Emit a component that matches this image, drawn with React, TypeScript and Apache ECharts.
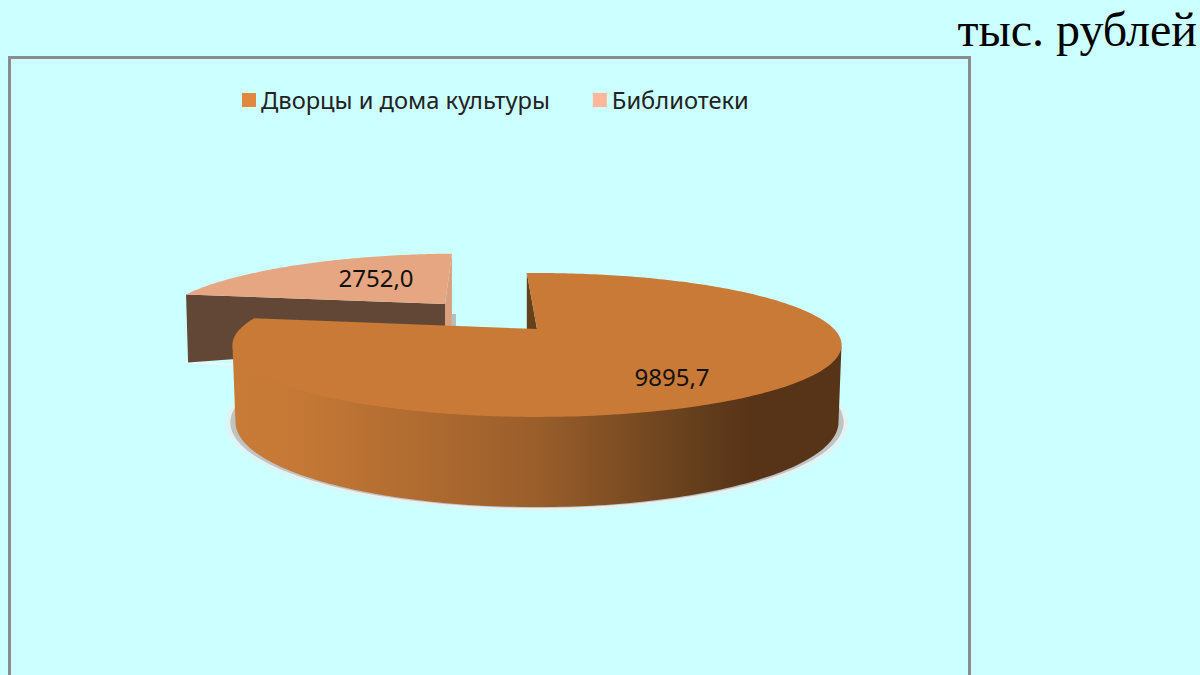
import React, { useEffect, useRef } from "react";
import * as echarts from "echarts";

const categories = ["Дворцы и дома культуры", "Библиотеки"];
const values = [9895.7, 2752.0];
const unitLabel = "тыс. рублей";

const START_DEG = -2.4;
const BG = "#CCFFFF";
const LEGEND_COLORS = ["#E0883D", "#FFB797"];
const TOP_COLORS = ["#C97A37", "#E6A681"];
const FONT = '"Noto Sans", sans-serif';

type P = [number, number];
type View = { xc: number; yc: number; b: number; a: number; k: number; s: number };

const MAIN_TOP: View = { xc: 537, yc: 329, b: 297, a: 68.4, k: 0.222, s: 0 };
const MAIN_BOTTOM: View = { xc: 537, yc: 403, b: 294, a: 81, k: 0.222, s: 0 };
const LIB_TOP: View = { xc: 445, yc: 304, b: 275, a: 61.6, k: 0.222, s: 20 };

function project(v: View, deg: number, f = 1): P {
  const t = (deg * Math.PI) / 180;
  const u = Math.sin(t) * f;
  const w = Math.cos(t) * f;
  const d = 1 + v.k * w;
  return [v.xc + (v.b * u + v.s * w) / d, v.yc - (v.a * w) / d];
}

function arc(v: View, from: number, to: number): P[] {
  const pts: P[] = [];
  const n = Math.max(2, Math.ceil(Math.abs(to - from)));
  for (let i = 0; i <= n; i++) pts.push(project(v, from + ((to - from) * i) / n));
  return pts;
}

function poly(points: P[], fill: any) {
  return { type: "polygon", shape: { points }, style: { fill, stroke: "none" } };
}

function label(value: number, x: number, y: number, size: number) {
  return {
    type: "text",
    x,
    y,
    style: {
      text: value.toFixed(1).replace(".", ","),
      fill: "#111111",
      font: `${size}px ${FONT}`,
      textAlign: "center",
      textVerticalAlign: "middle",
    },
  };
}

function sliceAngles(i: number): [number, number] {
  const total = values.reduce((a, b) => a + b, 0);
  let acc = 0;
  for (let j = 0; j < i; j++) acc += values[j];
  return [START_DEG + (acc / total) * 360, START_DEG + ((acc + values[i]) / total) * 360];
}

function renderMain(_: any, api: any) {
  const value = api.value(0);
  const [a0, a1] = sliceAngles(0);
  const apex: P = [MAIN_TOP.xc, MAIN_TOP.yc];
  const topArc = arc(MAIN_TOP, a0, a1);
  const startPt = topArc[0];
  const wallGrad = new echarts.graphic.LinearGradient(0, 0, 1, 0, [
    { offset: 0, color: "#C97A37" },
    { offset: 0.1, color: "#C67936" },
    { offset: 0.5, color: "#9A5E2B" },
    { offset: 0.75, color: "#66401D" },
    { offset: 0.85, color: "#573318" },
    { offset: 1, color: "#573318" },
  ]);
  const halo: View = { ...MAIN_BOTTOM, b: MAIN_BOTTOM.b + 9, a: MAIN_BOTTOM.a + 2.5, yc: MAIN_BOTTOM.yc + 0.5 };
  const shade: View = { ...MAIN_BOTTOM, b: MAIN_BOTTOM.b + 5, a: MAIN_BOTTOM.a + 0.4, yc: MAIN_BOTTOM.yc + 0.3 };
  const wallTop = arc({ ...MAIN_TOP, yc: MAIN_TOP.yc - 2 }, 102.8, 257.2);
  const wallBottom = arc(MAIN_BOTTOM, 257.2, 102.8);
  return {
    type: "group",
    children: [
      poly(arc(halo, 85, 275), "#E4F2F2"),
      poly(arc(shade, 85, 275), "#BCC4C4"),
      poly([startPt, apex, [startPt[0], apex[1]]], "#65401A"),
      poly([...wallTop, ...wallBottom], wallGrad),
      poly([apex, ...topArc], TOP_COLORS[0]),
      label(value, 672, 376, 24),
    ],
  };
}

function renderLibrary(_: any, api: any) {
  const value = api.value(0);
  const [a0, a1] = sliceAngles(1);
  const apex: P = [LIB_TOP.xc, LIB_TOP.yc];
  const topArc = arc(LIB_TOP, a0, a1);
  const corner = topArc[0];
  const tip = topArc[topArc.length - 1];
  return {
    type: "group",
    children: [
      poly(
        [
          [tip[0], 314],
          [tip[0] + 4, 314],
          [tip[0] + 4, 326],
          [tip[0], 326],
        ],
        "#B4BEBE"
      ),
      poly(
        [
          [corner[0] - 3, corner[1] + 68],
          [corner[0] + 55, corner[1] + 72],
          [corner[0] + 55, corner[1] + 70],
          [corner[0] + 2, corner[1] + 66],
        ],
        "#EAF8F8"
      ),
      poly(
        [corner, apex, [apex[0], apex[1] + 40], [corner[0] + 2, corner[1] + 68]],
        "#624736"
      ),
      poly([tip, apex, [apex[0], apex[1] + 40], [tip[0], apex[1] + 22]], "#D9A181"),
      poly([apex, ...topArc], TOP_COLORS[1]),
      label(value, 376, 277, 24),
    ],
  };
}

export default function App() {
  const ref = useRef<HTMLDivElement>(null);
  useEffect(() => {
    const chart = echarts.init(ref.current!, null, { renderer: "svg" });
    chart.setOption({
      animation: false,
      backgroundColor: BG,
      legend: {
        data: categories,
        left: 242,
        top: 88,
        padding: 0,
        itemWidth: 14,
        itemHeight: 14,
        itemGap: 43,
        icon: "rect",
        selectedMode: false,
        textStyle: { fontFamily: FONT, fontSize: 23.7, color: "#222222" },
      },
      series: [
        {
          type: "custom",
          name: categories[1],
          coordinateSystem: "none",
          silent: true,
          z: 2,
          itemStyle: { color: LEGEND_COLORS[1] },
          renderItem: renderLibrary,
          data: [[values[1]]],
        },
        {
          type: "custom",
          name: categories[0],
          coordinateSystem: "none",
          silent: true,
          z: 3,
          itemStyle: { color: LEGEND_COLORS[0] },
          renderItem: renderMain,
          data: [[values[0]]],
        },
      ],
      graphic: [
        {
          type: "polyline",
          shape: { points: [[9.5, 675], [9.5, 57.5], [969.5, 57.5], [969.5, 675]] },
          style: { stroke: "#8C8C8C", lineWidth: 3, fill: "none" },
        },
        {
          type: "text",
          x: 1197,
          y: 29,
          style: {
            text: unitLabel,
            fill: "#000000",
            font: '48px "Liberation Serif", serif',
            textAlign: "right",
            textVerticalAlign: "middle",
          },
        },
      ],
    });
    return () => chart.dispose();
  }, []);
  return <div ref={ref} style={{ position: "fixed", left: 0, top: 0, width: 1200, height: 675 }} />;
}
